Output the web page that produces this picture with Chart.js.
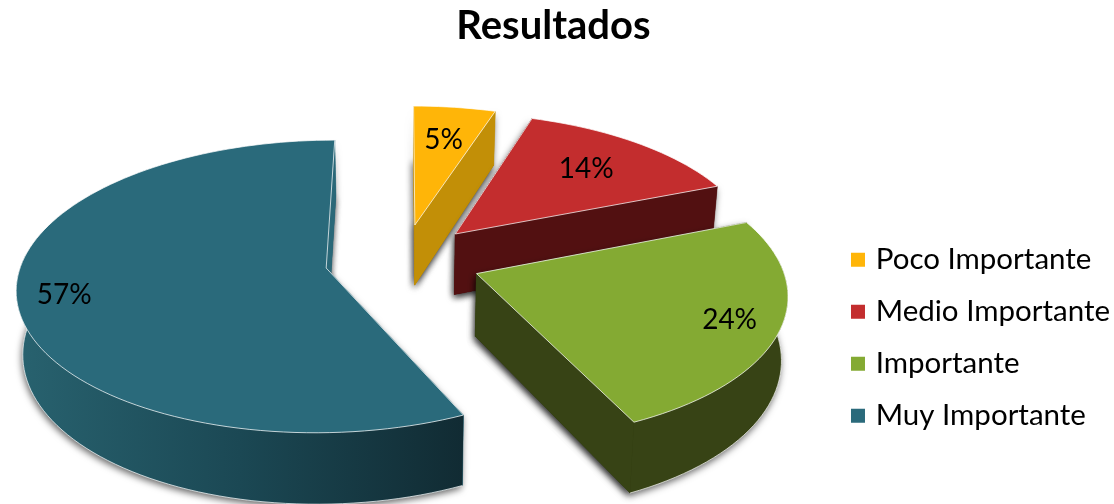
<!DOCTYPE html>
<html>
<head>
<meta charset="utf-8">
<title>Resultados</title>
<script src="https://cdn.jsdelivr.net/npm/chart.js@4"></script>
<style>
    html, body { margin: 0; padding: 0; background: #fff; }
    #wrap { position: relative; width: 1114px; height: 504px; }
</style>
</head>
<body>
<div id="wrap"><canvas id="canvas"></canvas></div>
<script>
var categories = ["Poco Importante", "Medio Importante", "Importante", "Muy Importante"];
var values = [5, 14, 24, 57];

var topColors = ["#FFB508", "#C32D2E", "#84AA33", "#2A6A7B"];
var sideColors = ["#C28F07", "#521011", "#374315", "#2A6878"];
var wallStops = [null, null, null, ["#28626F", "#1B4854", "#112B33"]];
var labelReach = [0.7, 0.7, 0.84, 0.85];

/* camera of the tilted pie, plane units are pie radii */
var view = { cx: 403, cy: 260, rx: 304, ry: 142, persp: 0.125, depth: 62, shrink: 0.983 };

var project = function (x, y, low) {
    var p = 1 / (1 - view.persp * y);
    var sx = view.cx + view.rx * x * p;
    var sy = view.cy + view.ry * y * p;
    if (low) {
        sx = view.cx + (sx - view.cx) * view.shrink;
        sy += view.depth * p;
    }
    return [sx, sy];
};

var tracePath = function (ctx, pts) {
    ctx.beginPath();
    for (var i = 0; i < pts.length; i++) {
        if (i == 0) ctx.moveTo(pts[i][0], pts[i][1]);
        else ctx.lineTo(pts[i][0], pts[i][1]);
    }
    ctx.closePath();
};

var fillPts = function (ctx, pts, fill, edge) {
    tracePath(ctx, pts);
    ctx.fillStyle = fill;
    ctx.fill();
    ctx.strokeStyle = edge || fill;
    ctx.lineWidth = edge ? 1 : 0.5;
    ctx.stroke();
};

var slicePlane = function (arc) {
    var e = arc.options.offset / arc.outerRadius;
    var mid = (arc.startAngle + arc.endAngle) / 2;
    var ox = e * Math.cos(mid), oy = e * Math.sin(mid);
    var rim = [], front = [];
    var steps = Math.ceil((arc.endAngle - arc.startAngle) * 30);
    for (var k = 0; k <= steps; k++) {
        var a = arc.startAngle + (arc.endAngle - arc.startAngle) * k / steps;
        rim.push([ox + Math.cos(a), oy + Math.sin(a)]);
        /* only the part of the rim that faces the viewer gets a wall */
        if (Math.sin(a) > -0.12) front.push([ox + Math.cos(a), oy + Math.sin(a)]);
    }
    return { ox: ox, oy: oy, mid: mid, rim: rim, front: front };
};

var drawSlice = function (ctx, arc, i) {
    var s = slicePlane(arc);
    var up = function (q) { return project(q[0], q[1], false); };
    var down = function (q) { return project(q[0], q[1], true); };
    var topRim = s.rim.map(up);
    var lowRim = s.rim.map(down);
    var wallTop = s.front.map(up);
    var wallLow = s.front.map(down);
    var apexT = project(s.ox, s.oy, false);
    var apexL = project(s.ox, s.oy, true);
    var last = topRim.length - 1;
    var edge = "rgba(255,255,255,0.72)";

    /* soft floor shadow under the whole block */
    ctx.save();
    ctx.shadowColor = "rgba(0,0,0,0.6)";
    ctx.shadowBlur = 7;
    ctx.shadowOffsetY = 3;
    ctx.shadowOffsetX = -1;
    ctx.fillStyle = sideColors[i];
    tracePath(ctx, [apexL].concat(lowRim));
    ctx.fill();
    tracePath(ctx, [apexT, topRim[0], lowRim[0], apexL]);
    ctx.fill();
    tracePath(ctx, [apexT, topRim[last], lowRim[last], apexL]);
    ctx.fill();
    ctx.restore();

    /* the two cut faces, then the outer wall */
    fillPts(ctx, [apexT, topRim[0], lowRim[0], apexL], sideColors[i]);
    fillPts(ctx, [apexT, topRim[last], lowRim[last], apexL], sideColors[i]);

    if (wallTop.length > 1) {
        var wall = wallTop.concat(wallLow.slice().reverse());
        var fill = sideColors[i];
        if (wallStops[i]) {
            var xs = wall.map(function (q) { return q[0]; });
            var grad = ctx.createLinearGradient(Math.min.apply(null, xs), 0, Math.max.apply(null, xs), 0);
            wallStops[i].forEach(function (c, n) { grad.addColorStop(n / (wallStops[i].length - 1), c); });
            fill = grad;
        }
        tracePath(ctx, wall);
        ctx.fillStyle = fill;
        ctx.fill();

        /* thin light line along the lower edge */
        ctx.strokeStyle = edge;
        ctx.lineWidth = 1;
        ctx.beginPath();
        wallLow.forEach(function (q, n) {
            if (n == 0) ctx.moveTo(q[0], q[1]);
            else ctx.lineTo(q[0], q[1]);
        });
        ctx.stroke();
    }

    fillPts(ctx, [apexT].concat(topRim), topColors[i], edge);
};

var pie3d = {
    id: "pie3d",
    beforeDatasetDraw: function (chart, args) {
        var ctx = chart.ctx;
        var arcs = chart.getDatasetMeta(args.index).data;
        var order = arcs.map(function (a, i) { return i; }).sort(function (m, n) {
            return Math.sin((arcs[m].startAngle + arcs[m].endAngle) / 2) - Math.sin((arcs[n].startAngle + arcs[n].endAngle) / 2);
        });
        ctx.save();
        order.forEach(function (i) { drawSlice(ctx, arcs[i], i); });

        ctx.fillStyle = "#000";
        ctx.font = "28px Lato";
        ctx.textAlign = "center";
        ctx.textBaseline = "middle";
        arcs.forEach(function (arc, i) {
            var s = slicePlane(arc);
            var pos = project(s.ox + labelReach[i] * Math.cos(s.mid), s.oy + labelReach[i] * Math.sin(s.mid), false);
            ctx.fillText(values[i] + "%", pos[0], pos[1]);
        });
        ctx.restore();
        return false;
    }
};

var config = {
    type: "pie",
    data: {
        labels: categories,
        datasets: [{
            data: values,
            backgroundColor: topColors,
            offset: 45,
            borderWidth: 0
        }]
    },
    options: {
        responsive: true,
        maintainAspectRatio: false,
        animation: false,
        layout: { padding: { left: -13, right: -6, bottom: 51 } },
        plugins: {
            tooltip: { enabled: false },
            title: {
                display: true,
                text: "Resultados",
                color: "#000",
                font: { family: "Lato", size: 40, weight: "bold" },
                padding: { top: 2, bottom: 8 }
            },
            legend: {
                position: "right",
                align: "end",
                labels: {
                    color: "#000",
                    font: { family: "Lato", size: 29.5 },
                    boxWidth: 6,
                    boxHeight: 6,
                    padding: 22.5,
                    generateLabels: function (chart) {
                        var items = Chart.overrides.pie.plugins.legend.labels.generateLabels(chart);
                        items.forEach(function (item) {
                            item.strokeStyle = item.fillStyle;
                            item.lineWidth = 8;
                        });
                        return items;
                    }
                }
            }
        }
    },
    plugins: [pie3d]
};

var ctx = document.getElementById("canvas").getContext("2d");
new Chart(ctx, config);
</script>
</body>
</html>
